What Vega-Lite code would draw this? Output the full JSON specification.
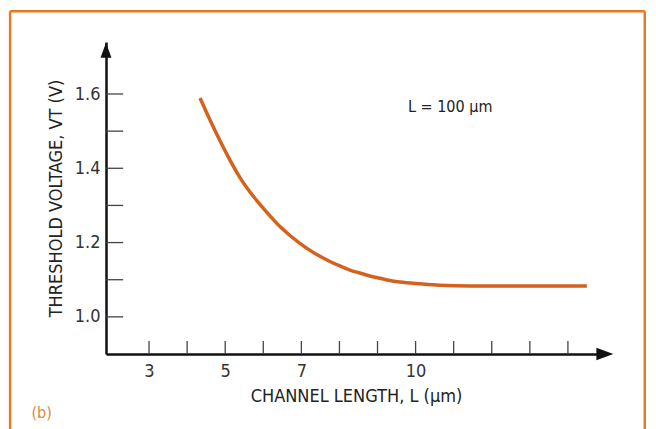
{
  "$schema": "https://vega.github.io/schema/vega-lite/v6.json",
  "width": 500,
  "height": 312,
  "autosize": {"type": "none"},
  "padding": {"left": 106, "top": 42, "right": 50, "bottom": 75},
  "background": "#ffffff",
  "config": {
    "view": {"stroke": null},
    "font": "DejaVu Sans Condensed, Liberation Sans, sans-serif",
    "axis": {"labelFont": "DejaVu Sans Condensed, Liberation Sans, sans-serif", "titleFont": "DejaVu Sans Condensed, Liberation Sans, sans-serif", "grid": false}
  },
  "datasets": {
    "curve": [
      {"L": 4.339, "VT": 1.589},
      {"L": 4.601, "VT": 1.530},
      {"L": 4.864, "VT": 1.474},
      {"L": 5.126, "VT": 1.422},
      {"L": 5.388, "VT": 1.375},
      {"L": 5.651, "VT": 1.336},
      {"L": 5.913, "VT": 1.303},
      {"L": 6.176, "VT": 1.272},
      {"L": 6.438, "VT": 1.243},
      {"L": 6.701, "VT": 1.219},
      {"L": 6.963, "VT": 1.198},
      {"L": 7.226, "VT": 1.179},
      {"L": 7.488, "VT": 1.163},
      {"L": 7.751, "VT": 1.149},
      {"L": 8.013, "VT": 1.137},
      {"L": 8.276, "VT": 1.126},
      {"L": 8.538, "VT": 1.118},
      {"L": 8.801, "VT": 1.110},
      {"L": 9.063, "VT": 1.104},
      {"L": 9.325, "VT": 1.098},
      {"L": 9.588, "VT": 1.094},
      {"L": 10.113, "VT": 1.089},
      {"L": 10.638, "VT": 1.085},
      {"L": 11.425, "VT": 1.083},
      {"L": 12.554, "VT": 1.083},
      {"L": 14.496, "VT": 1.083}
    ],
    "xticks": [{"L": 3}, {"L": 4}, {"L": 5}, {"L": 6}, {"L": 7}, {"L": 8}, {"L": 9}, {"L": 10}, {"L": 11}, {"L": 12}, {"L": 13}, {"L": 14}],
    "yticks": [{"VT": 1.0}, {"VT": 1.1}, {"VT": 1.2}, {"VT": 1.3}, {"VT": 1.4}, {"VT": 1.5}, {"VT": 1.6}]
  },
  "layer": [
    {
      "data": {"name": "curve"},
      "mark": {"type": "line", "color": "#d4621c", "strokeWidth": 3.5, "interpolate": "monotone", "strokeCap": "butt"},
      "encoding": {
        "x": {
          "field": "L", "type": "quantitative",
          "scale": {"domain": [1.87, 15.0], "nice": false, "zero": false},
          "axis": {
            "values": [3, 5, 7, 10], "ticks": false, "domainColor": "#111111", "domainWidth": 2.5,
            "labelFontSize": 18, "labelColor": "#333333", "labelPadding": 8,
            "title": "CHANNEL LENGTH, L (µm)", "titleFontSize": 18, "titleFontWeight": "normal", "titleColor": "#222222", "titlePadding": 7
          }
        },
        "y": {
          "field": "VT", "type": "quantitative",
          "scale": {"domain": [0.9, 1.74], "nice": false, "zero": false},
          "axis": {
            "values": [1.0, 1.2, 1.4, 1.6], "format": ".1f", "ticks": false, "domainColor": "#111111", "domainWidth": 2.5,
            "labelFontSize": 18, "labelColor": "#333333", "labelPadding": 6,
            "title": "THRESHOLD VOLTAGE, VT (V)", "titleFontSize": 18, "titleFontWeight": "normal", "titleColor": "#222222", "titlePadding": 9
          }
        }
      }
    },
    {
      "data": {"name": "xticks"},
      "mark": {"type": "rule", "color": "#444444", "strokeWidth": 1.3},
      "encoding": {
        "x": {"field": "L", "type": "quantitative"},
        "y": {"datum": 0.9},
        "y2": {"datum": 0.935}
      }
    },
    {
      "data": {"name": "yticks"},
      "mark": {"type": "rule", "color": "#444444", "strokeWidth": 1.3},
      "encoding": {
        "y": {"field": "VT", "type": "quantitative"},
        "x": {"datum": 1.87},
        "x2": {"datum": 2.32}
      }
    },
    {
      "data": {"values": [{"L": 1.87, "VT": 1.718}]},
      "mark": {"type": "point", "shape": "M0,-1L-0.73,1L0.73,1Z", "size": 225, "filled": true, "color": "#111111", "opacity": 1},
      "encoding": {"x": {"field": "L", "type": "quantitative"}, "y": {"field": "VT", "type": "quantitative"}}
    },
    {
      "data": {"values": [{"L": 14.97, "VT": 0.9}]},
      "mark": {"type": "point", "shape": "M1,0L-1,-0.73L-1,0.73Z", "size": 289, "filled": true, "color": "#111111", "opacity": 1},
      "encoding": {"x": {"field": "L", "type": "quantitative"}, "y": {"field": "VT", "type": "quantitative"}}
    },
    {
      "data": {"values": [{"L": 9.8, "VT": 1.565, "label": "L = 100 µm"}]},
      "mark": {"type": "text", "align": "left", "baseline": "middle", "fontSize": 16, "color": "#222222"},
      "encoding": {"x": {"field": "L", "type": "quantitative"}, "y": {"field": "VT", "type": "quantitative"}, "text": {"field": "label"}}
    },
    {
      "data": {"values": [{"L": 0.178, "VT": 0.742, "label": "(b)"}]},
      "mark": {"type": "text", "align": "center", "baseline": "middle", "fontSize": 16, "color": "#d98a3a"},
      "encoding": {"x": {"field": "L", "type": "quantitative"}, "y": {"field": "VT", "type": "quantitative"}, "text": {"field": "label"}}
    },
    {
      "data": {"values": [{}]},
      "mark": {"type": "rule", "color": "#e57c25", "strokeWidth": 2.5},
      "encoding": {"x": {"datum": -0.648}, "x2": {"datum": 16.018}, "y": {"datum": 1.823}}
    },
    {
      "data": {"values": [{}]},
      "mark": {"type": "rule", "color": "#e57c25", "strokeWidth": 2.5},
      "encoding": {"x": {"datum": -0.648}, "y": {"datum": 1.823}, "y2": {"datum": 0.69}}
    },
    {
      "data": {"values": [{}]},
      "mark": {"type": "rule", "color": "#e57c25", "strokeWidth": 2.5},
      "encoding": {"x": {"datum": 16.018}, "y": {"datum": 1.823}, "y2": {"datum": 0.69}}
    }
  ]
}
